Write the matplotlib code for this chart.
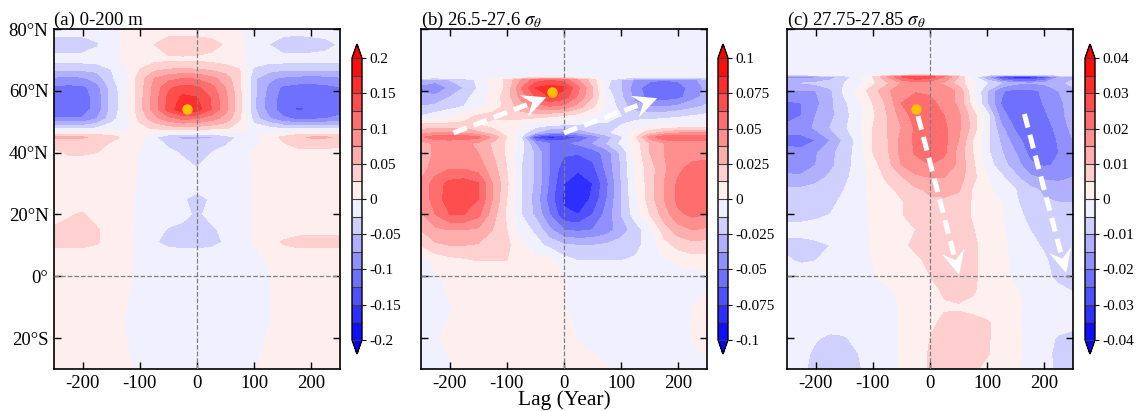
import numpy as np
import matplotlib.pyplot as plt
from matplotlib.patches import Polygon

plt.rcParams['font.family'] = ['Liberation Serif', 'DejaVu Serif']
plt.rcParams['mathtext.fontset'] = 'stix'

# lag axis (years) shared by all three panels
lags = [-250, -225, -200, -175, -150, -125, -100, -75, -50, -25, 0,
        25, 50, 75, 100, 125, 150, 175, 200, 225, 250]

# (a) 0-200 m, values in units of the contour step (0.025)
a_step = 0.025
a_lat = [80, 75, 70, 67, 64, 61, 58, 54, 51, 48, 45, 43, 40, 35, 30, 25, 20, 15, 11, 7, 0, -15, -30]
a_vals = [
    [-0.5, -0.5, -0.5, -0.5, -0.5, 0.3, 0.5, 0.5, 0.5, 0.5, 0.5, 0.5, 0.5, 0.1, -0.5, -0.5, -0.5, -0.6, -0.5, -0.5, -0.5],
    [-1.5, -1.6, -1.5, -1.1, -0.5, 0.3, 0.6, 1.0, 1.5, 1.6, 1.5, 1.3, 0.9, 0.2, -0.5, -1.0, -1.5, -1.6, -1.5, -1.3, -0.9],
    [-0.6, -0.6, -0.6, -0.5, -0.4, 0.3, 0.5, 0.7, 0.8, 0.8, 0.8, 0.7, 0.5, 0.2, -0.4, -0.6, -0.6, -0.6, -0.6, -0.6, -0.6],
    [-1.8, -1.8, -1.8, -1.7, -1.0, -0.2, 1.0, 1.7, 2.0, 2.1, 2.0, 1.8, 1.5, 1.0, -1.2, -1.6, -1.8, -1.8, -1.8, -1.8, -1.8],
    [-3.2, -3.3, -3.2, -2.6, -1.2, -0.2, 1.5, 3.0, 3.7, 4.0, 3.9, 3.3, 2.5, 1.1, -1.8, -2.8, -3.2, -3.4, -3.5, -3.4, -3.2],
    [-4.3, -4.3, -4.3, -3.4, -1.6, -0.3, 1.5, 3.3, 4.8, 5.4, 5.2, 4.4, 3.0, 1.2, -1.8, -3.2, -4.2, -4.4, -4.4, -4.3, -4.1],
    [-4.5, -4.5, -4.5, -3.6, -1.7, -0.3, 1.6, 3.4, 5.2, 6.2, 6.0, 4.9, 3.2, 1.3, -1.8, -3.4, -4.4, -4.6, -4.7, -4.6, -4.3],
    [-4.6, -4.6, -4.5, -3.6, -1.7, -0.3, 1.6, 3.4, 5.4, 6.8, 6.5, 5.0, 3.3, 1.3, -1.8, -3.4, -4.5, -5.1, -5.0, -4.6, -4.3],
    [-3.9, -3.9, -3.9, -3.0, -1.4, -0.3, 1.3, 2.6, 3.6, 4.2, 4.0, 3.4, 2.6, 1.1, -1.5, -2.8, -3.8, -4.2, -4.2, -4.0, -3.8],
    [-1.3, -1.3, -1.3, -1.0, -0.5, -0.3, 0.6, 1.2, 1.5, 1.7, 1.6, 1.4, 1.2, 0.5, -0.5, -0.8, -1.2, -1.3, -1.3, -1.3, -1.2],
    [2.1, 2.2, 2.1, 1.8, 1.3, 0.8, 0.3, -0.8, -1.8, -2.2, -2.2, -2.1, -1.5, -0.8, -0.2, 0.6, 1.2, 1.8, 2.1, 2.1, 1.9],
    [1.3, 1.5, 1.5, 1.4, 0.9, 0.5, 0.2, -0.6, -1.2, -1.6, -1.6, -1.5, -1.1, -0.6, -0.3, 0.3, 0.9, 1.4, 1.5, 1.5, 1.3],
    [0.8, 1.1, 1.1, 1.0, 0.6, 0.4, -0.1, -0.5, -0.8, -1.1, -1.3, -1.0, -0.7, -0.5, 0.2, 0.5, 0.6, 0.6, 0.6, 0.6, 0.6],
    [0.5, 0.5, 0.5, 0.5, 0.5, 0.4, -0.1, -0.5, -0.5, -0.7, -1.0, -0.6, -0.5, -0.4, 0.1, 0.5, 0.5, 0.5, 0.5, 0.5, 0.5],
    [0.5, 0.5, 0.5, 0.5, 0.5, 0.4, -0.1, -0.5, -0.5, -0.5, -0.5, -0.5, -0.5, -0.4, 0.1, 0.5, 0.5, 0.5, 0.5, 0.5, 0.5],
    [0.5, 0.5, 0.5, 0.5, 0.5, 0.3, -0.2, -0.5, -0.5, -0.9, -1.3, -0.9, -0.5, -0.4, 0.1, 0.5, 0.5, 0.5, 0.5, 0.5, 0.5],
    [0.5, 0.9, 1.1, 0.6, 0.5, 0.3, -0.2, -0.5, -0.5, -0.7, -1.2, -0.7, -0.5, -0.4, 0.1, 0.5, 0.5, 0.5, 0.5, 0.5, 0.5],
    [1.2, 1.3, 1.3, 1.1, 0.5, 0.3, -0.3, -0.6, -1.1, -1.3, -1.3, -1.2, -0.7, -0.4, 0.1, 0.5, 0.5, 0.6, 0.7, 0.7, 0.7],
    [1.4, 1.4, 1.4, 1.1, 0.6, 0.3, -0.3, -0.9, -1.3, -1.4, -1.4, -1.3, -0.9, -0.5, 0.1, 0.6, 1.1, 1.4, 1.4, 1.4, 1.3],
    [0.5, 0.5, 0.5, 0.5, 0.5, 0.3, -0.3, -0.5, -0.6, -0.6, -0.6, -0.6, -0.5, -0.5, -0.2, 0.2, 0.5, 0.5, 0.5, 0.5, 0.5],
    [0.5, 0.5, 0.5, 0.5, 0.5, 0.3, -0.3, -0.5, -0.5, -0.5, -0.5, -0.5, -0.5, -0.5, -0.4, -0.1, 0.5, 0.5, 0.5, 0.5, 0.5],
    [0.5, 0.5, 0.5, 0.5, 0.5, -0.1, -0.5, -0.5, -0.5, -0.5, -0.5, -0.5, -0.5, -0.5, -0.4, -0.1, 0.5, 0.5, 0.5, 0.5, 0.5],
    [0.5, 0.5, 0.5, 0.5, 0.5, 0.3, -0.3, -0.5, -0.5, -0.5, -0.5, -0.5, -0.5, -0.5, -0.1, 0.4, 0.5, 0.5, 0.5, 0.5, 0.5],
]

# (b) 26.5-27.6 sigma_theta, units of 0.0125
b_step = 0.0125
b_lat = [80, 64.5, 63.5, 61, 58, 55, 52, 49, 46.5, 45, 43, 40, 35, 30, 25, 20, 15, 10, 5, 0, -10, -20, -30]
b_vals = [
    [-0.3] * 21,
    [-0.3] * 21,
    [-2.0, -2.4, -2.0, -1.5, -0.8, 0.3, 1.2, 3.0, 4.5, 5.0, 4.5, 3.0, 1.5, -0.6, -2.0, -3.2, -3.8, -4.0, -3.8, -3.2, -2.6],
    [-3.5, -4.2, -2.8, -2.0, -0.9, 0.2, 1.2, 4.0, 6.0, 6.5, 6.2, 4.2, 2.0, -0.9, -2.0, -3.6, -4.6, -4.8, -4.6, -3.5, -2.8],
    [-2.5, -2.6, -2.0, -1.3, -0.6, 0.4, 1.5, 3.3, 5.0, 6.0, 5.5, 3.8, 2.0, -0.3, -1.8, -3.4, -4.4, -4.6, -4.3, -3.4, -2.6],
    [-2.0, -1.8, -1.4, -1.0, -0.5, 0.4, 1.3, 2.5, 3.5, 4.0, 3.7, 2.5, 1.2, -0.2, -1.5, -2.6, -3.0, -3.1, -2.8, -2.3, -1.8],
    [-1.0, -0.6, -0.2, 0.6, 1.1, 1.3, 1.5, 1.6, 1.5, 1.3, 1.0, 0.6, 0.0, -0.5, -1.0, -1.4, -1.5, -1.4, -1.2, -1.0, -0.8],
    [1.2, 1.3, 1.3, 1.2, 1.0, 0.6, 0.3, 0.0, -0.5, -0.8, -1.0, -1.1, -1.2, -1.2, -1.0, -0.6, -0.3, -0.2, -0.2, -0.2, -0.2],
    [2.5, 3.0, 3.0, 2.8, 2.2, 1.5, 0.6, -0.4, -2.0, -3.0, -3.2, -2.8, -2.0, -1.2, -0.5, 0.5, 1.5, 2.2, 2.8, 3.0, 3.0],
    [3.8, 4.6, 4.6, 4.6, 4.2, 2.8, 1.0, -1.0, -5.5, -6.5, -6.0, -5.0, -3.8, -2.5, -1.2, 0.8, 3.5, 4.8, 4.8, 4.8, 4.6],
    [2.5, 3.2, 3.3, 3.2, 2.8, 1.8, 0.8, -0.5, -3.0, -4.0, -4.2, -3.8, -3.0, -2.0, -0.8, 0.5, 2.0, 3.0, 3.3, 3.5, 3.5],
    [2.3, 3.2, 3.4, 3.4, 3.0, 2.0, 0.8, -0.8, -2.2, -4.0, -4.8, -4.9, -4.6, -3.5, -1.8, 0.3, 2.0, 3.0, 3.4, 3.6, 3.6],
    [2.5, 3.5, 3.9, 3.9, 3.5, 2.5, 1.0, -1.0, -2.2, -4.0, -5.6, -5.8, -5.3, -3.7, -1.9, 0.2, 1.5, 2.8, 3.8, 4.3, 4.4],
    [3.2, 4.5, 5.3, 5.5, 5.1, 3.0, 1.2, -1.0, -2.2, -4.2, -6.0, -6.6, -6.0, -4.2, -2.0, 0.0, 1.5, 3.0, 4.2, 4.8, 4.8],
    [3.2, 4.5, 5.5, 5.6, 5.0, 3.0, 1.0, -1.0, -2.4, -4.5, -6.2, -6.7, -5.8, -4.0, -2.0, -0.2, 1.5, 3.0, 4.3, 4.8, 4.7],
    [2.8, 4.0, 5.0, 5.0, 4.3, 2.5, 0.8, -1.0, -2.2, -4.0, -5.8, -6.0, -5.0, -3.6, -2.0, -0.5, 1.0, 2.5, 3.8, 4.2, 4.0],
    [2.0, 2.8, 3.0, 3.0, 2.8, 2.0, 1.0, -0.5, -1.2, -2.8, -4.0, -4.2, -4.0, -3.5, -2.5, -1.5, -0.4, 1.5, 2.5, 3.0, 2.8],
    [1.0, 1.8, 2.0, 2.0, 1.9, 1.6, 1.2, 0.4, -0.6, -1.3, -1.8, -2.0, -2.0, -1.8, -1.5, -1.2, -0.7, 0.6, 1.3, 1.6, 1.5],
    [-0.4, 0.3, 0.6, 0.8, 1.0, 1.0, 1.0, 0.9, 0.4, 0.4, -0.6, -1.0, -1.0, -1.0, -1.0, -0.9, -0.7, -0.3, 0.3, 0.5, 0.6],
    [-0.5, -0.2, 0.4, 0.5, 0.5, 0.5, 0.5, 0.5, 0.5, 0.5, 0.1, -0.5, -0.5, -0.5, -0.5, -0.5, -0.5, -0.5, -0.5, -0.5, -0.3],
    [-0.5, -0.5, -0.1, 0.4, 0.5, 0.5, 0.5, 0.5, 0.5, 0.5, 0.1, -0.5, -0.5, -0.5, -0.5, -0.5, -0.5, -0.5, -0.5, 0.0, 0.4],
    [-0.5, -0.2, 0.4, 0.5, 0.5, 0.5, 0.5, 0.5, 0.5, 0.5, 0.5, -0.1, -0.5, -0.5, -0.5, -0.5, -0.5, -0.5, -0.5, 0.1, 0.5],
    [-0.5, -0.5, -0.2, 0.4, 0.5, 0.5, 0.5, 0.5, 0.5, 0.5, 0.5, 0.5, 0.5, 0.1, -0.4, -0.5, -0.5, -0.5, -0.5, -0.5, -0.3],
]

# (c) 27.75-27.85 sigma_theta, units of 0.005
c_step = 0.005
c_lat = [80, 65.3, 64.5, 62.5, 60, 56, 52, 48, 44, 40, 36, 32, 28, 24, 20, 15, 10, 5, 0, -5, -10, -15, -20, -25, -30]
c_vals = [
    [-0.3] * 21,
    [-0.3] * 21,
    [-3.5, -3.5, -3.2, -2.5, -1.5, -0.3, 1.0, 3.0, 5.0, 6.0, 5.5, 4.0, 2.0, -0.5, -3.0, -6.0, -6.8, -6.8, -5.5, -3.0, -2.2],
    [-2.0, -2.0, -1.8, -1.5, -1.0, -0.4, 0.8, 1.8, 3.0, 3.5, 3.3, 2.8, 1.5, 0.2, -1.0, -2.0, -2.8, -3.0, -2.8, -2.2, -1.8],
    [-3.0, -3.0, -3.0, -2.2, -0.8, 0.3, 1.5, 2.8, 3.6, 3.9, 3.8, 3.5, 2.8, 0.2, -2.0, -3.9, -4.3, -4.3, -3.8, -3.0, -2.2],
    [-4.2, -4.0, -3.3, -2.3, -1.2, -0.3, 1.0, 2.2, 4.0, 4.5, 4.3, 3.6, 2.8, 0.5, -2.0, -4.1, -4.6, -4.6, -3.9, -3.2, -2.6],
    [-4.3, -4.0, -3.0, -2.3, -1.3, -0.5, 0.8, 2.0, 3.4, 4.5, 4.6, 4.0, 3.2, 1.5, -0.6, -3.6, -4.6, -4.7, -4.2, -3.3, -2.6],
    [-3.8, -3.6, -2.8, -2.0, -1.2, -0.2, 1.0, 2.0, 3.0, 4.2, 4.6, 4.2, 3.2, 1.6, -0.6, -2.8, -4.2, -4.7, -4.6, -3.6, -2.7],
    [-4.2, -4.3, -4.0, -3.0, -1.8, -0.6, 1.0, 1.9, 3.3, 4.2, 4.5, 4.3, 3.0, 1.0, -0.8, -2.2, -3.6, -4.6, -4.6, -3.9, -3.0],
    [-3.8, -3.8, -3.1, -2.3, -1.5, -0.6, 1.0, 1.8, 3.3, 4.1, 4.4, 4.2, 2.6, 1.0, -0.8, -1.9, -3.0, -4.3, -4.5, -4.0, -3.0],
    [-3.5, -3.6, -3.0, -2.3, -1.4, -0.6, 0.6, 1.6, 3.0, 3.6, 4.0, 3.6, 2.8, 1.2, -0.5, -1.6, -2.5, -3.8, -4.1, -3.9, -3.1],
    [-2.8, -2.8, -2.4, -1.8, -1.2, -0.6, 0.4, 1.2, 1.9, 2.8, 3.0, 3.0, 2.5, 1.3, 0.1, -0.8, -1.8, -2.8, -3.2, -3.3, -3.0],
    [-1.8, -1.8, -1.6, -1.3, -1.0, -0.4, 0.3, 0.7, 1.3, 1.8, 2.2, 2.3, 2.1, 0.9, 0.2, -0.4, -1.0, -1.7, -2.2, -2.4, -2.3],
    [-1.4, -1.4, -1.3, -1.2, -0.8, -0.4, 0.2, 0.6, 0.9, 1.5, 1.8, 1.8, 1.6, 0.9, 0.4, 0.0, -0.9, -1.4, -1.9, -2.0, -2.0],
    [-1.2, -1.2, -1.1, -1.0, -0.7, -0.4, 0.2, 0.5, 0.95, 1.4, 1.5, 1.5, 1.4, 0.9, 0.5, 0.1, -0.8, -1.2, -1.5, -1.7, -1.8],
    [-0.8, -0.8, -0.8, -0.7, -0.5, -0.3, 0.1, 0.4, 0.7, 1.0, 1.4, 1.5, 1.4, 1.05, 0.5, 0.1, -0.4, -1.0, -1.3, -1.5, -1.6],
    [-1.2, -1.2, -1.1, -1.0, -0.6, -0.3, 0.1, 0.4, 0.8, 1.2, 1.4, 1.5, 1.5, 1.2, 0.6, 0.2, -0.3, -0.8, -1.1, -1.4, -1.5],
    [-0.9, -1.1, -1.0, -0.7, -0.5, -0.3, 0.0, 0.3, 0.5, 0.8, 1.2, 1.5, 1.5, 1.2, 0.6, 0.2, -0.2, -0.5, -0.9, -1.3, -1.5],
    [-0.5, -0.5, -0.6, -0.5, -0.4, -0.3, -0.1, 0.3, 0.5, 0.7, 1.0, 1.4, 1.5, 1.2, 0.6, 0.2, -0.2, -0.5, -0.8, -1.2, -1.5],
    [-0.5, -0.5, -0.5, -0.5, -0.5, -0.5, -0.4, -0.2, 0.2, 0.4, 0.7, 1.1, 1.3, 1.1, 0.6, 0.4, 0.1, -0.3, -0.5, -0.8, -1.0],
    [-0.5, -0.5, -0.5, -0.5, -0.5, -0.5, -0.5, -0.4, 0.1, 0.4, 0.6, 0.9, 0.9, 0.7, 0.5, 0.4, 0.2, -0.3, -0.5, -0.5, -0.5],
    [-0.5, -0.5, -0.5, -0.5, -0.5, -0.5, -0.5, -0.4, 0.1, 0.5, 0.8, 1.2, 1.3, 1.3, 1.1, 0.6, 0.2, -0.4, -0.5, -0.6, -0.8],
    [-0.5, -0.6, -0.9, -1.2, -1.1, -0.7, -0.5, -0.4, 0.1, 0.5, 1.0, 1.4, 1.5, 1.4, 1.1, 0.6, 0.2, -0.3, -0.7, -1.1, -1.2],
    [-0.5, -0.7, -1.2, -1.4, -1.3, -1.0, -0.6, -0.4, 0.1, 0.5, 1.1, 1.5, 1.5, 1.4, 1.1, 0.5, 0.2, -0.3, -0.8, -1.2, -1.4],
    [-0.5, -0.8, -1.3, -1.4, -1.3, -1.1, -0.6, -0.3, 0.1, 0.5, 1.1, 1.4, 1.3, 1.2, 0.7, 0.4, 0.1, -0.4, -0.7, -1.2, -1.4],
]

a_ticks = [-0.2, -0.15, -0.1, -0.05, 0, 0.05, 0.1, 0.15, 0.2]
b_ticks = [-0.1, -0.075, -0.05, -0.025, 0, 0.025, 0.05, 0.075, 0.1]
c_ticks = [-0.04, -0.03, -0.02, -0.01, 0, 0.01, 0.02, 0.03, 0.04]

titles = ['(a) 0-200 m', r'(b) 26.5-27.6 $\sigma_\theta$', r'(c) 27.75-27.85 $\sigma_\theta$']

# reference points (orange dots) and propagation arrows
dots = [(-17, 54), (-21, 59.5), (-24, 54)]
arrows = [
    [],
    [((-193, 46.4), (-31, 57.9)), ((0, 46.4), (163, 57.6))],
    [((-21, 51.8), (51, 0.5)), ((165, 52.5), (238, 1.0))],
]

xt = [-200, -100, 0, 100, 200]
yt = [-20, 0, 20, 40, 60, 80]
ytl = ['20°S', '0°', '20°N', '40°N', '60°N', '80°N']

W, H = 1141, 411
fig = plt.figure(figsize=(W / 100, H / 100), dpi=100)
ax_left = [54, 421, 787]
cb_left = [352, 718, 1085]


def draw_arrow(ax, start, tip):
    p0 = ax.transData.transform(start)
    p1 = ax.transData.transform(tip)
    d = (p1 - p0) / np.hypot(*(p1 - p0))
    n = np.array([-d[1], d[0]])
    notch = ax.transData.inverted().transform(p1 - 15 * d)
    ax.plot([start[0], notch[0]], [start[1], notch[1]], color='white', lw=3.6,
            dashes=(2.8, 1.5), dash_capstyle='butt', zorder=4)
    head = [p1, p1 - 24 * d + 11.5 * n, p1 - 15 * d, p1 - 24 * d - 11.5 * n]
    ax.add_patch(Polygon(ax.transData.inverted().transform(head), closed=True,
                         facecolor='white', edgecolor='none', zorder=4))


panels = [(a_lat, a_vals, a_step, a_ticks), (b_lat, b_vals, b_step, b_ticks),
          (c_lat, c_vals, c_step, c_ticks)]

for i, (lat, vals, step, ticks) in enumerate(panels):
    ax = fig.add_axes([ax_left[i] / W, 1 - 369 / H, 286 / W, 340 / H])
    z = np.array(vals)[::-1] * step
    levels = np.linspace(ticks[0], ticks[-1], 17)
    cf = ax.contourf(lags, np.array(lat)[::-1], z, levels=levels, cmap='bwr', extend='both')
    ax.set_xlim(-250, 250)
    ax.set_ylim(-30, 80)
    ax.axvline(0, color='#808080', ls='--', lw=0.9, zorder=3)
    ax.axhline(0, color='#808080', ls='--', lw=0.9, zorder=3)
    ax.set_xticks(xt)
    ax.set_xticklabels([str(v) for v in xt])
    ax.set_yticks(yt)
    if i == 0:
        ax.set_yticklabels(ytl)
    else:
        ax.set_yticklabels([])
    ax.tick_params(direction='in', top=True, right=True, length=5, width=1,
                   labelsize=13.5, pad=4)
    for s in ax.spines.values():
        s.set_linewidth(1.2)
    ax.set_title(titles[i], loc='left', fontsize=13.5, pad=3)
    if i == 1:
        ax.set_xlabel('Lag (Year)', fontsize=15.5, labelpad=-1)

    for start, tip in arrows[i]:
        draw_arrow(ax, start, tip)
    ax.plot(*dots[i], 'o', color='#FFC000', ms=7.5, mec='none', zorder=6)

    cax = fig.add_axes([cb_left[i] / W, 1 - 354 / H, 10 / W, 310 / H])
    cb = fig.colorbar(cf, cax=cax, ticks=ticks, drawedges=True)
    cb.ax.set_yticklabels([f'{t:g}' for t in ticks])
    cb.dividers.set_color('#404040')
    cb.dividers.set_linewidth(0.8)
    cb.outline.set_linewidth(1.0)
    cax.tick_params(direction='out', length=3, width=0.8, labelsize=11, pad=2)

fig.savefig('out.png', dpi=100)
